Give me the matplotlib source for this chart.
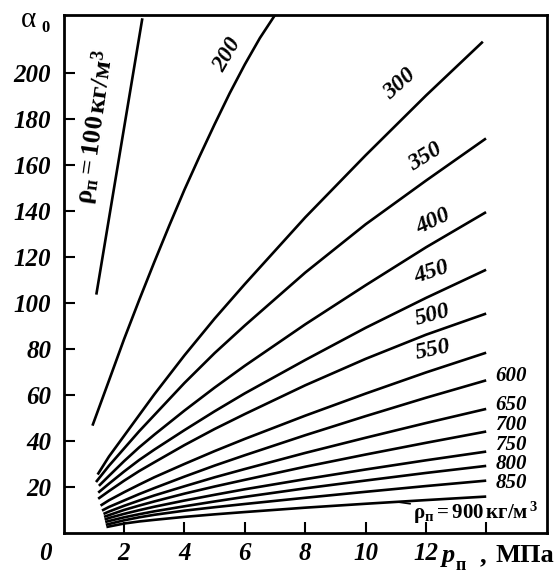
import matplotlib
matplotlib.use("Agg")
import matplotlib.pyplot as plt

plt.rcParams['font.family'] = ['Liberation Serif', 'DejaVu Serif']
plt.rcParams['font.weight'] = 'bold'
plt.rcParams['mathtext.fontset'] = 'custom'
plt.rcParams['mathtext.rm'] = 'Liberation Serif:style=normal:weight=bold'
plt.rcParams['mathtext.it'] = 'Liberation Serif:style=italic:weight=bold'
plt.rcParams['mathtext.bf'] = 'Liberation Serif:style=normal:weight=bold'

# steep curves for the lightest densities (p, MPa ; alpha_0)
p_100 = [1.09, 1.85, 2.60]
a_100 = [104, 164, 223]
p_200 = [0.97, 1.5, 2.0, 2.5, 3.0, 3.5, 4.0, 4.5, 5.0, 5.5, 6.0, 6.5, 7.0]
a_200 = [47, 66, 84, 101, 117.5, 133.5, 149, 163.5, 177.5, 191, 203.5, 215, 225]

# the fan of curves 300..900 kg/m3: start point, common grid, end point
densities = [300, 350, 400, 450, 500, 550, 600, 650, 700, 750, 800, 850, 900]
p_start = [1.15, 1.10, 1.20, 1.18, 1.18, 1.26, 1.31, 1.36, 1.38, 1.40, 1.42, 1.44, 1.46]
p_grid = [1.5, 2, 2.5, 3, 4, 5, 6, 8, 10, 12]
p_end = [13.85, 13.95, 13.95, 13.95, 13.95, 13.95, 13.95, 13.95, 13.95, 13.95, 13.95, 13.95, 13.95]

a_300 = [25.7, 33, 42, 51, 60, 77, 93, 108, 137, 164, 190, 213]
a_350 = [22.4, 29, 36.5, 44, 51, 65, 78, 90, 113, 134, 153, 171]
a_400 = [20.7, 24.6, 31, 37, 42.5, 53, 63, 72.5, 90.5, 107.5, 124, 139]
a_450 = [17.7, 21.2, 26.5, 31.5, 36, 44.5, 52.7, 60.5, 75, 89, 102, 114]
a_500 = [15, 18, 22.5, 26.7, 30.5, 38, 45, 51.5, 64, 75.5, 86, 95]
a_550 = [12, 14, 17.5, 20.8, 24, 29.8, 35.4, 40.7, 50.8, 60.4, 69.6, 78]
a_600 = [9.8, 11.1, 13.9, 16.7, 19.3, 24.3, 29.1, 33.6, 42.3, 50.6, 58.6, 66]
a_650 = [8.3, 9.1, 11.6, 13.9, 16.1, 20.1, 24, 27.6, 34.6, 41.2, 47.6, 53.6]
a_700 = [7.0, 7.55, 9.8, 11.7, 13.5, 16.9, 20, 22.9, 28.6, 33.9, 39.0, 43.8]
a_750 = [5.8, 6.3, 8.1, 9.7, 11.2, 13.9, 16.4, 18.8, 23.2, 27.4, 31.4, 35.1]
a_800 = [4.7, 5.0, 6.6, 7.95, 9.2, 11.4, 13.5, 15.5, 19.2, 22.6, 25.9, 28.9]
a_850 = [3.5, 3.7, 5.3, 6.6, 7.7, 9.5, 11.0, 12.4, 15.1, 17.7, 20.2, 22.5]
a_900 = [2.5, 2.6, 3.9, 4.8, 5.5, 6.8, 7.9, 8.9, 10.8, 12.5, 14.1, 15.6]
fan = [a_300, a_350, a_400, a_450, a_500, a_550, a_600,
       a_650, a_700, a_750, a_800, a_850, a_900]

x_ticks = [2, 4, 6, 8, 10, 12, 14]
x_labels = ['2', '4', '6', '8', '10', '12', '']
y_ticks = [20, 40, 60, 80, 100, 120, 140, 160, 180, 200]

fig = plt.figure(figsize=(5.59, 5.77), dpi=100)
ax = fig.add_axes([0.1138, 0.0771, 0.8644, 0.8969])

lw = 1.9
ax.plot(p_100, a_100, color='black', lw=lw)
ax.plot(p_200, a_200, color='black', lw=lw)
for i, vals in enumerate(fan):
    xs = [p_start[i]] + p_grid + [p_end[i]]
    ax.plot(xs, vals, color='black', lw=lw)

ax.set_xlim(0, 16)
ax.set_ylim(0, 225)
ax.set_xticks(x_ticks)
ax.set_xticklabels(x_labels)
ax.set_yticks(y_ticks)
ax.tick_params(direction='in', length=8, width=1.5, labelsize=18)
ax.tick_params(axis='x', pad=7)
ax.tick_params(axis='y', pad=9)
for lab in ax.get_xticklabels() + ax.get_yticklabels():
    lab.set_fontstyle('italic')
for s in ax.spines.values():
    s.set_linewidth(2)

# labels along the curves
rot_labels = [('200', 5.44, 207.6, 60), ('300', 11.14, 195, 42),
              ('350', 11.97, 163.3, 32), ('400', 12.23, 135.4, 25),
              ('450', 12.2, 113.3, 18), ('500', 12.23, 94.6, 15),
              ('550', 12.23, 79.3, 12)]
for txt, x, y, r in rot_labels:
    ax.text(x, y, txt, rotation=r, rotation_mode='anchor', ha='center',
            va='center', fontsize=17, style='italic')

side_labels = [('600', 68), ('650', 55.4), ('700', 46.7),
               ('750', 38), ('800', 29.8), ('850', 21.5)]
for txt, y in side_labels:
    ax.text(14.81, y, txt, ha='center', va='center', fontsize=15,
            style='italic')

ax.text(1.04, 176.3, r'$\mathrm{ρ}_{\mathrm{п}}\mathit{=100}\,\mathrm{кг/м}^{3}$',
        rotation=82, rotation_mode='anchor', ha='center', va='center',
        fontsize=19)

ax.annotate(r'$\mathrm{ρ}_{\mathrm{п}}\mathit{=900}\,\mathrm{кг/м}^{\,3}$',
            xy=(11.04, 13.3), xytext=(11.57, 8.5), ha='left', va='center',
            fontsize=15, arrowprops=dict(arrowstyle='-', lw=1.2,
                                         shrinkA=0, shrinkB=0))

W, H = 559, 577
fig.text(45.5 / W, 1 - 554 / H, '0', ha='center', va='center', fontsize=18,
         style='italic')
fig.text(29 / W, 1 - 20 / H, 'α', ha='center', va='center', fontsize=21,
         weight='normal')
fig.text(46 / W, 1 - 28 / H, '0', ha='center', va='center', fontsize=12)

fig.text(442 / W, 1 - 562 / H, 'p', ha='left', va='baseline', fontsize=19,
         style='italic')
fig.text(456 / W, 1 - 570 / H, 'п', ha='left', va='baseline', fontsize=13)
fig.text(480 / W, 1 - 562 / H, ',', ha='left', va='baseline', fontsize=19)
fig.text(495 / W, 1 - 562 / H, 'МПа', ha='left', va='baseline', fontsize=19)

fig.savefig('out.png', dpi=100)
